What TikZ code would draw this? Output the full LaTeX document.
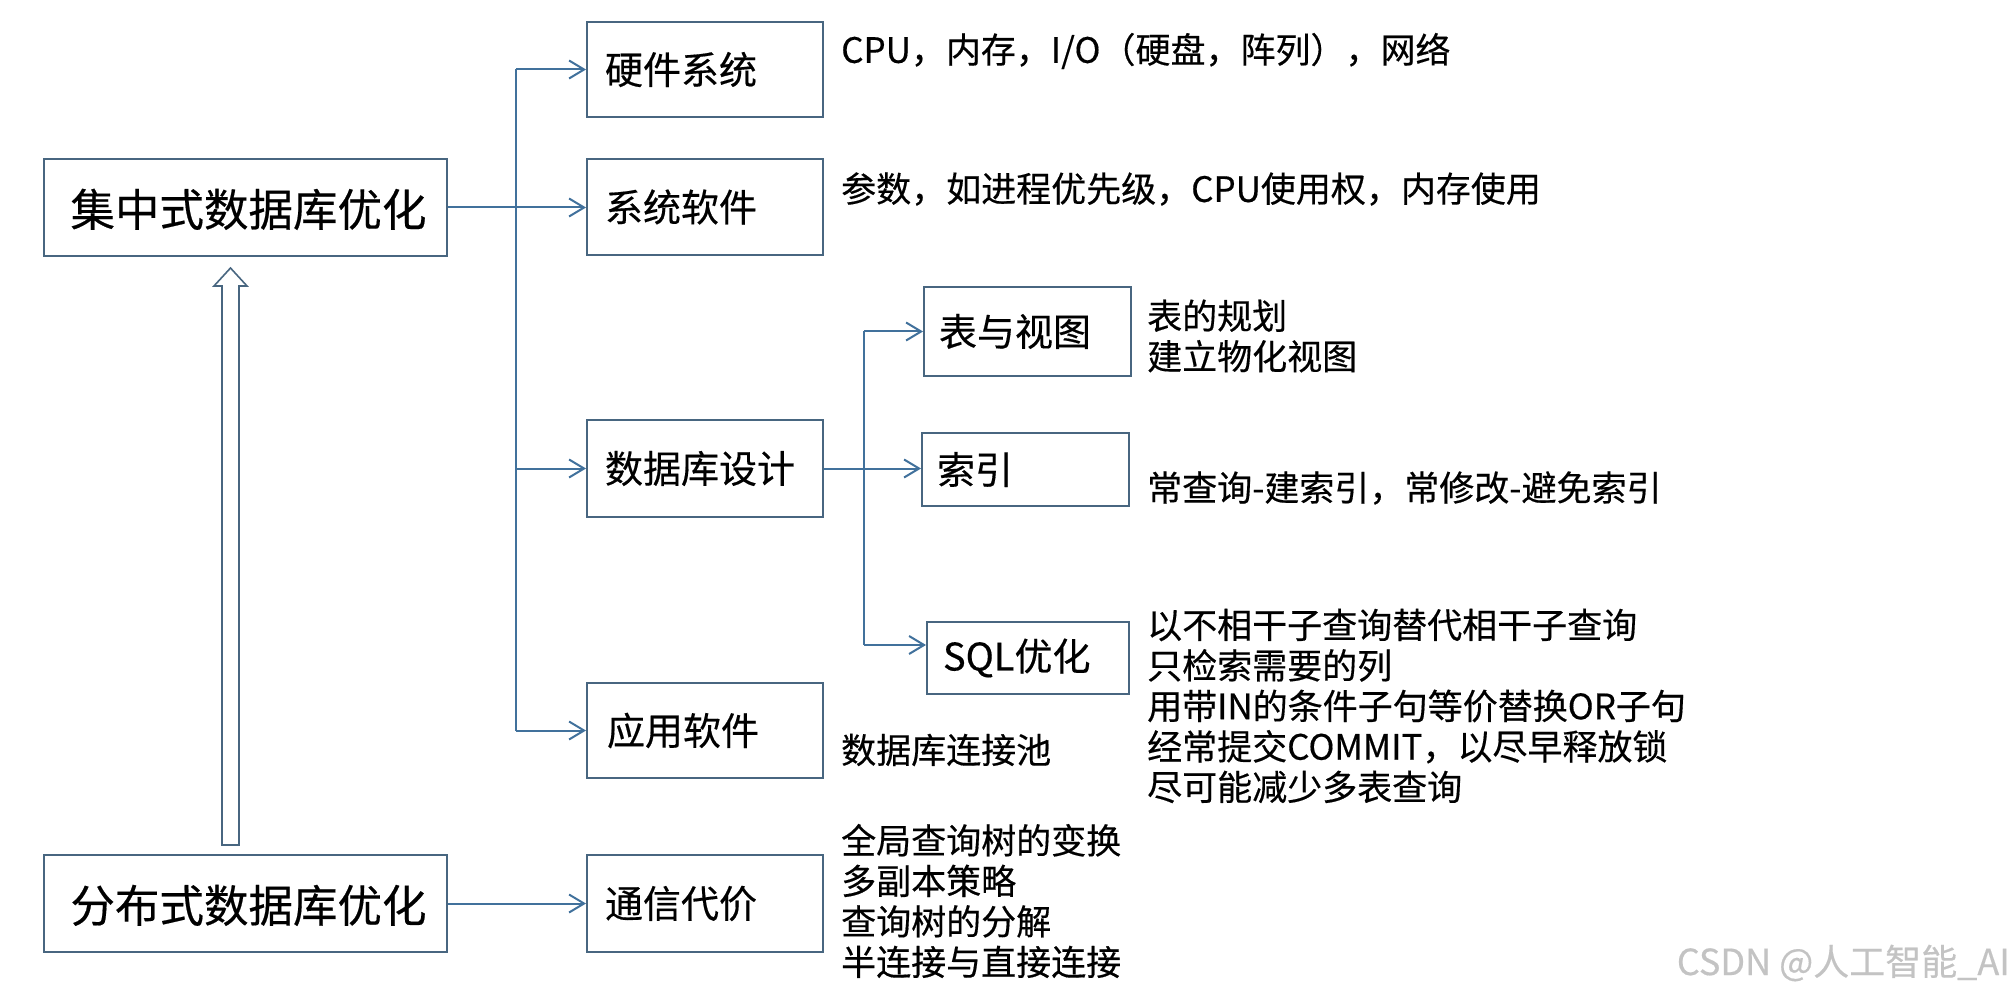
\documentclass[tikz,border=0pt]{standalone}
\usepackage{fontspec}
\setmainfont[FakeBold=0.4]{Noto Sans CJK SC}
\usetikzlibrary{arrows.meta,calc}
\definecolor{linec}{RGB}{65,113,156}
\definecolor{boxc}{RGB}{72,102,128}
\definecolor{wmc}{RGB}{195,195,195}
\begin{document}
\begin{tikzpicture}[x=1pt,y=-1pt,
  bigbox/.style={draw=boxc,line width=2pt,fill=white,anchor=north west,inner sep=0pt,
    minimum width=403,minimum height=97,font=\fontsize{44.5}{50}\selectfont},
  sbox/.style={draw=boxc,line width=2pt,fill=white,anchor=north west,inner ysep=0pt,
    align=left,font=\fontsize{38}{44}\selectfont},
  side/.style={anchor=west,inner sep=0pt,align=left,font=\fontsize{35}{40.5}\selectfont},
  conn/.style={draw=linec,line width=2pt},
  arr/.style={conn,-{Straight Barb[length=15pt,width=18pt,line width=2pt]}},
  hollow/.style={draw=boxc,line width=1.6pt,fill=white,line join=miter}]
\useasboundingbox (0,0) rectangle (2014,1000);

% main boxes
\node[bigbox,text depth=0pt] (central) at (43,158) {\hspace*{6pt}集中式数据库优化};
\node[bigbox,text depth=0pt] (dist) at (43,854) {\hspace*{6pt}分布式数据库优化};

\node[sbox,inner xsep=18pt,text width=200pt,minimum height=95] (hw) at (586,21) {硬件系统};
\node[sbox,inner xsep=18pt,text width=200pt,minimum height=96] (sw) at (586,158) {系统软件};
\node[sbox,inner xsep=18pt,text width=200pt,minimum height=97] (dbd) at (586,419) {数据库设计};
\node[sbox,inner xsep=20pt,text width=196pt,minimum height=95] (app) at (586,682) {应用软件};
\node[sbox,inner xsep=18pt,text width=200pt,minimum height=97] (comm) at (586,854) {通信代价};

\node[sbox,inner xsep=15pt,text width=177pt,minimum height=89] (tv) at (923,286) {表与视图};
\node[sbox,inner xsep=15pt,text width=177pt,minimum height=73] (idx) at (921,432) {索引};
\node[sbox,inner xsep=16pt,text width=170pt,minimum height=72] (sql) at (926,621) {SQL优化};

% side texts
\node[side] (thw) at (841,51) {CPU，内存，I/O（硬盘，阵列），网络};
\node[side] (tsw) at (841,189) {参数，如进程优先级，CPU使用权，内存使用};
\node[side] (ttv) at (1147,336) {表的规划\\建立物化视图};
\node[side] (tidx) at (1147,488) {常查询-建索引，常修改-避免索引};
\node[side] (tsql) at (1147,706) {以不相干子查询替代相干子查询\\只检索需要的列\\用带IN的条件子句等价替换OR子句\\经常提交COMMIT，以尽早释放锁\\尽可能减少多表查询};
\node[side] (tapp) at (841,750) {数据库连接池};
\node[side] (tcomm) at (841,901) {全局查询树的变换\\多副本策略\\查询树的分解\\半连接与直接连接};

% watermark
\node[anchor=east,inner sep=0pt,text=wmc,font=\fontsize{36}{40}\selectfont] (wm) at (2010,963) {CSDN @人工智能\_AI};

% trunk 1
\coordinate (tr) at (516,0);
\draw[conn] (tr |- hw.west) -- (tr |- app.west);
\draw[arr] (tr |- hw.west) -- (hw.west);
\draw[arr] (central.east) -- (central.east -| sw.west);
\draw[arr] (tr |- dbd.west) -- (dbd.west);
\draw[arr] (tr |- app.west) -- (app.west);
\draw[arr] (dist.east) -- (dist.east -| comm.west);

% trunk 2
\coordinate (tr2) at (864,0);
\coordinate (sqlin) at ($(sql.north west)+(0,24)$);
\draw[conn] (tr2 |- tv.west) -- (tr2 |- sqlin);
\draw[arr] (tr2 |- tv.west) -- (tv.west);
\draw[arr] (dbd.east) -- (dbd.east -| idx.west);
\draw[arr] (tr2 |- sqlin) -- (sqlin);

% hollow arrow from dist to central
\coordinate (tip) at ($(central.south)+(-15,11)$);
\coordinate (base) at ($(dist.north)+(-15,-9)$);
\draw[hollow] (tip) -- ($(tip)+(16.5,18)$) -- ($(tip)+(8.5,18)$) -- ($(base)+(8.5,0)$)
  -- ($(base)+(-8.5,0)$) -- ($(tip)+(-8.5,18)$) -- ($(tip)+(-16.5,18)$) -- cycle;
\end{tikzpicture}
\end{document}
